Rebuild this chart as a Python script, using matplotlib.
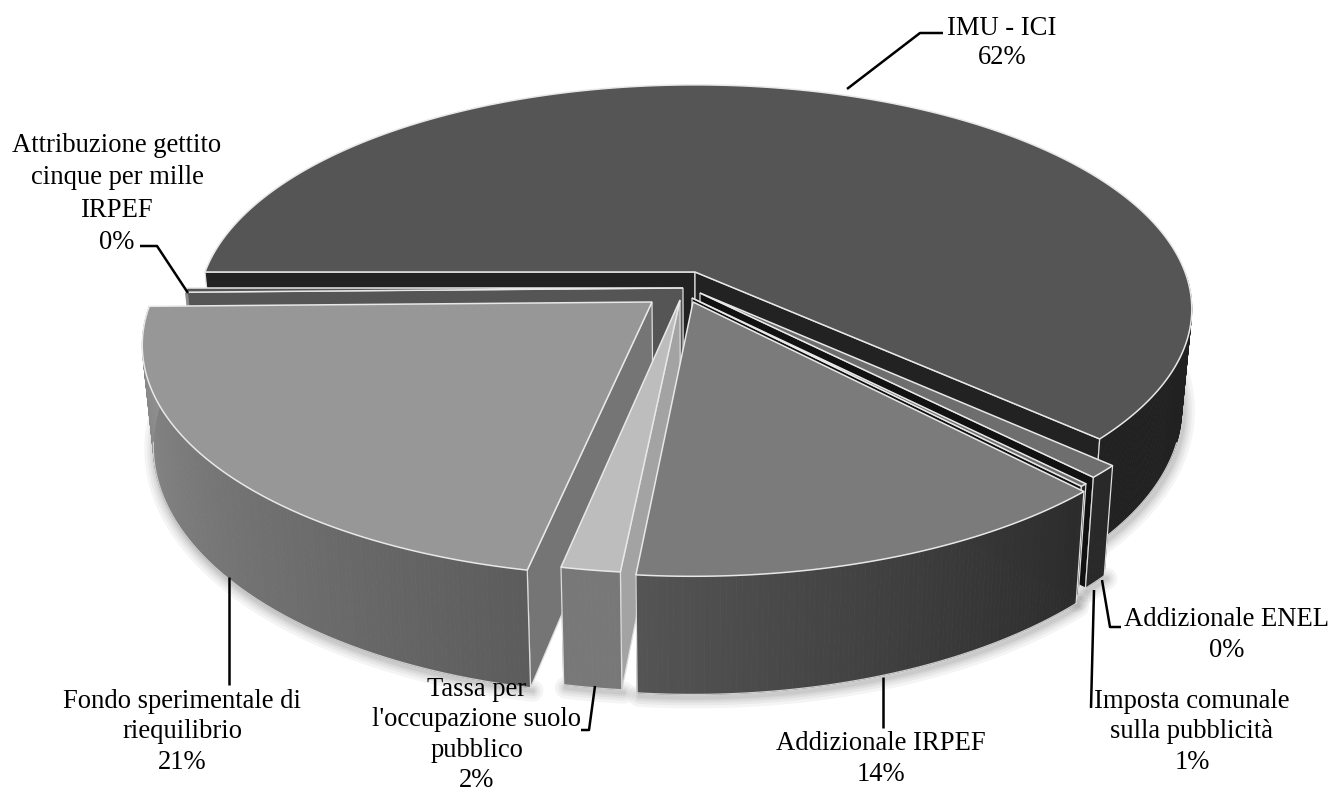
import numpy as np
import matplotlib
matplotlib.use("Agg")
import matplotlib.pyplot as plt
from matplotlib.patches import Polygon

# data
categories = ["IMU - ICI", "Imposta comunale\nsulla pubblicità", "Addizionale ENEL", "Addizionale IRPEF",
              "Tassa per\nl'occupazione suolo\npubblico", "Fondo sperimentale di\nriequilibrio",
              "Attribuzione gettito\ncinque per mille\nIRPEF"]
values = [61.9, 0.9, 0.2, 13.5, 1.6, 21.6, 0.3]
pct_labels = ["62%", "1%", "0%", "14%", "2%", "21%", "0%"]

# style
START = 270.0
CX, CY, R, H, K, D = 695.0, 272.0, 490.0, 218.0, 0.165, 96.0
SHRINK = 0.98
apex = [(695, 272), (700, 293), (692, 298), (693, 302), (680, 300), (652, 302), (683, 288)]
top_col = ["#555555", "#6e6e6e", "#6e6e6e", "#7b7b7b", "#bdbdbd", "#979797", "#555555"]
face_col = ["#222222", "#111111", "#111111", "#333333", "#a3a3a3", "#757575", "#555555"]
wall_a = [0.13, 0.16, 0.15, 0.17, 0.47, 0.36, 0.55]   # shade at clockwise start
wall_b = [0.13, 0.16, 0.15, 0.33, 0.47, 0.56, 0.55]   # shade at clockwise end
draw_order = [0, 6, 1, 2, 5, 4, 3]

text_pos = [(1002, 43), (1192, 732), (1227, 635), (881, 759), (477, 735), (182, 732), (117, 194)]
text_size = [19.2, 19.2, 19.2, 19.2, 19.2, 19.2, 19.2]
text_ls = [1.24, 1.29, 1.29, 1.29, 1.29, 1.29, 1.37]
leaders = [[(943, 33), (920, 33), (847, 89)],
           [(1094, 590), (1091, 708)],
           [(1102, 580), (1110, 627), (1121, 627)],
           [(883, 677), (883, 728)],
           [(595, 686), (589, 730), (581, 730)],
           [(229, 577), (229, 685)],
           [(140, 246), (157, 246), (188, 293)]]

fig = plt.figure(figsize=(13.32, 7.91), dpi=100, facecolor="white")
ax = fig.add_axes([0, 0, 1, 1])
ax.set_xlim(0, 1332)
ax.set_ylim(791, 0)
ax.axis("off")


def proj(u, v, z=0.0):
    s = 1.0 / (1.0 - K * v)
    x = CX + R * u * s
    y = CY + H * v * s
    x = CX + (x - CX) * (1 - (1 - SHRINK) * z)
    return x, y + D * z * s


def unproj_offset(px, py):
    dy = py - CY
    v = dy / (H + K * dy)
    u = (px - CX) * (1 - K * v) / R
    return u, v


def signed_area(pts):
    p = np.array(pts)
    q = np.roll(p, -1, axis=0)
    return np.sum(p[:, 0] * q[:, 1] - q[:, 0] * p[:, 1])


fracs = np.array(values) / np.sum(values) * 360.0
ends = START + np.cumsum(fracs)
starts = ends - fracs

arcs = []
for i in range(len(values)):
    du, dv = unproj_offset(*apex[i])
    phis = np.radians(np.linspace(starts[i], ends[i], max(int(fracs[i]) * 2, 2) + 1))
    arcs.append((du + np.sin(phis), dv - np.cos(phis)))

# soft shadow under the walls
for us, vs in arcs:
    mask = vs > 0.0
    if mask.sum() < 2:
        continue
    pts = np.array([proj(a, b, 1.0) for a, b in zip(us[mask], vs[mask])])
    for lw in (22, 16, 11, 7, 4):
        ax.plot(pts[:, 0] + 2, pts[:, 1] + 3, color="black", lw=lw * 0.72, alpha=0.045,
                solid_capstyle="round", zorder=1)

zorder = 2
for i in draw_order:
    du, dv = unproj_offset(*apex[i])
    us, vs = arcs[i]
    a0 = proj(du, dv)
    a1 = proj(du, dv, 1.0)
    t = np.array([proj(a, b) for a, b in zip(us, vs)])
    b = np.array([proj(a, b, 1.0) for a, b in zip(us, vs)])
    # cut faces: only those turned towards the viewer
    for idx, sign in ((0, -1), (-1, 1)):
        quad = [a0, t[idx], b[idx], a1]
        if signed_area(quad) * sign > 0:
            ax.add_patch(Polygon(quad, closed=True, facecolor=face_col[i],
                                 edgecolor="#dddddd", lw=0.9, zorder=zorder))
            zorder += 1
    # outer wall, front part only
    front = vs > 0.02
    n = len(t) - 1
    for j in range(n):
        if not (front[j] or front[j + 1]):
            continue
        shade = wall_a[i] + (wall_b[i] - wall_a[i]) * (j + 0.5) / n
        c = str(shade)
        ax.add_patch(Polygon([t[j], t[j + 1], b[j + 1], b[j]], closed=True, facecolor=c,
                             edgecolor=c, lw=0.6, zorder=zorder))
    zorder += 1
    lined = vs > 0.3
    if lined.sum() > 1:
        ax.plot(b[lined, 0], b[lined, 1], color="#cccccc", lw=0.9, zorder=zorder)
    for idx in (0, -1):
        if vs[idx] > 0.3:
            ax.plot([t[idx, 0], b[idx, 0]], [t[idx, 1], b[idx, 1]], color="#dddddd", lw=0.9, zorder=zorder)
    zorder += 1
    # top
    ax.add_patch(Polygon(np.vstack([[a0], t]), closed=True, facecolor=top_col[i],
                         edgecolor="#e8e8e8", lw=1.1, joinstyle="miter", zorder=zorder))
    zorder += 1

for pts in leaders:
    p = np.array(pts)
    ax.plot(p[:, 0], p[:, 1], color="black", lw=1.8, solid_capstyle="butt", zorder=zorder)

for name, pct, (x, y), fs, ls in zip(categories, pct_labels, text_pos, text_size, text_ls):
    ax.text(x, y, name + "\n" + pct, ha="center", va="center", family="Liberation Serif",
            fontsize=fs, linespacing=ls, color="black", zorder=zorder + 1)

fig.savefig("out.png", dpi=100, facecolor="white")
